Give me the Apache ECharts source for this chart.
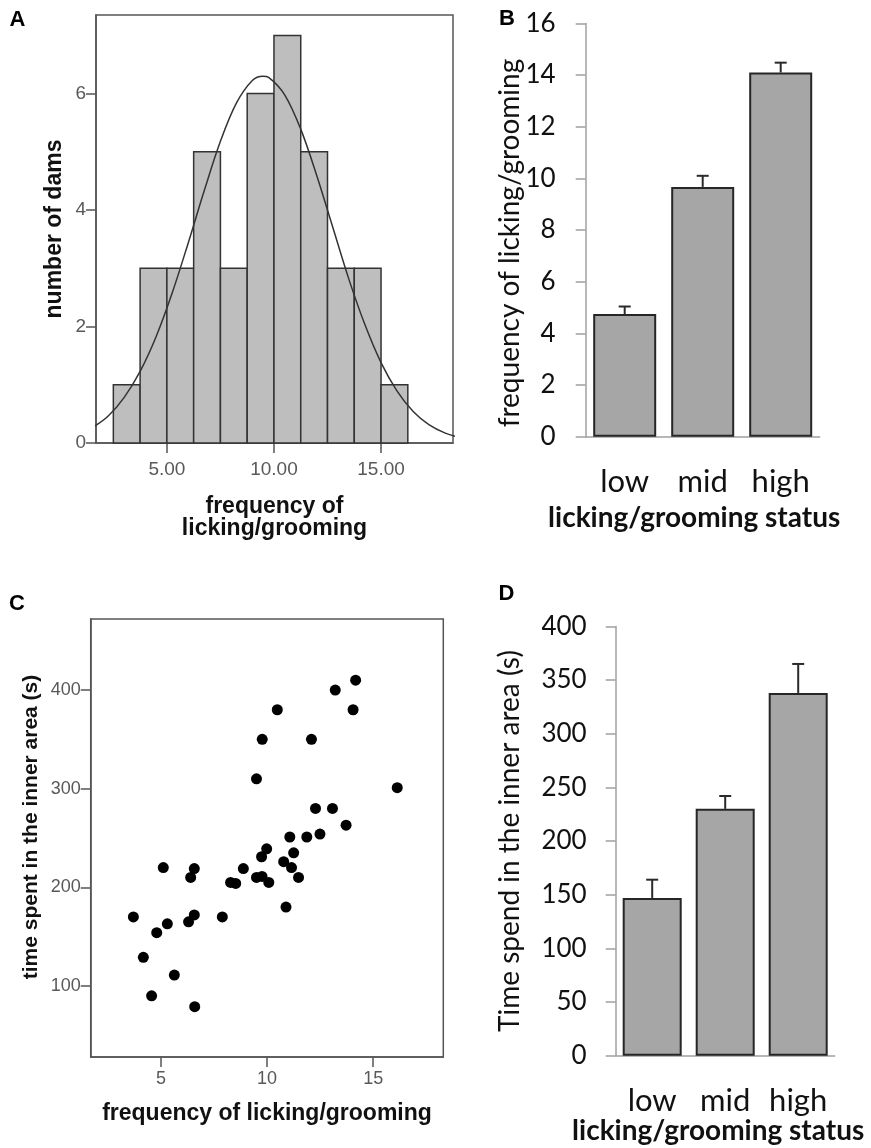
<!DOCTYPE html>
<html>
<head>
<meta charset="utf-8">
<script src="https://cdn.jsdelivr.net/npm/echarts@6/dist/echarts.min.js"></script>
<style>
  html, body { margin: 0; padding: 0; background: #fff; }
  #chart { width: 871px; height: 1148px; }
</style>
</head>
<body>
<div id="chart"></div>
<script>
// panel A: histogram of licking/grooming frequency + fitted curve
const histEdges = [2.5, 3.75, 5.0, 6.25, 7.5, 8.75, 10.0, 11.25, 12.5, 13.75, 15.0, 16.25];
const histCounts = [1, 3, 3, 5, 3, 6, 7, 5, 3, 3, 1];
const curveX = [1.5, 2.25, 3.0, 3.75, 4.5, 5.25, 6.0, 6.75, 7.5, 8.25, 9.0, 9.48, 9.75,
                10.5, 11.25, 12.0, 12.75, 13.5, 14.25, 15.0, 15.75, 16.5, 17.25, 18.0, 18.75];
const curveY = [0.26, 0.46, 0.78, 1.23, 1.83, 2.58, 3.44, 4.34, 5.18, 5.84, 6.23, 6.30, 6.28,
                5.98, 5.39, 4.59, 3.70, 2.81, 2.03, 1.38, 0.89, 0.54, 0.31, 0.17, 0.09];
const histXTicks = [5, 10, 15];
const histYTicks = [0, 2, 4, 6];

// panels B and D: group means with SEM
const groups = ['low', 'mid', 'high'];
const lgMeans = [4.75, 9.67, 14.1];
const lgSem = [0.29, 0.43, 0.38];
const timeMeans = [147, 230, 338];
const timeSem = [17, 12, 27];

// panel C: scatter, frequency vs time in inner area
const scatterLG = [14.17, 13.21, 14.05, 10.48, 9.77, 12.09, 9.50, 16.13, 12.28, 13.08,
                   13.72, 11.07, 11.87, 12.49, 9.98, 9.74, 11.25, 10.78, 11.15, 11.48,
                   5.11, 6.57, 6.40, 8.88, 9.50, 9.76, 10.08, 8.28, 8.52, 10.89,
                   3.70, 7.89, 6.57, 6.30, 5.30, 4.80, 4.17, 5.63, 4.56, 6.59];
const scatterTime = [410, 400, 380, 380, 350, 350, 310, 301, 280, 280,
                     263, 251, 251, 254, 239, 231, 235, 226, 220, 210,
                     220, 219, 210, 219, 210, 211, 205, 205, 204, 180,
                     170, 170, 172, 165, 163, 154, 129, 111, 90, 79];
const scatterXTicks = [5, 10, 15];
const scatterYTicks = [100, 200, 300, 400];

let chart = echarts.init(document.getElementById('chart'), null, { renderer: 'canvas' });

const spssFont = 'Liberation Sans';
const officeFont = 'Lato';

let histData = histCounts.map((c, i) => [histEdges[i], histEdges[i + 1], c]);
let curveData = curveX.map((x, i) => [x, curveY[i]]);
let scatterData = scatterLG.map((x, i) => [x, scatterTime[i]]);
let lgErr = lgMeans.map((m, i) => [i, m, lgSem[i]]);
let timeErr = timeMeans.map((m, i) => [i, m, timeSem[i]]);

function errItem(params, api) {
  let base = api.coord([api.value(0), api.value(1)]);
  let top = api.coord([api.value(0), api.value(1) + api.value(2)]);
  let st = { stroke: '#2a2a2a', lineWidth: 2 };
  return {
    type: 'group',
    children: [
      { type: 'line', shape: { x1: base[0], y1: base[1], x2: top[0], y2: top[1] }, style: st },
      { type: 'line', shape: { x1: top[0] - 6, y1: top[1], x2: top[0] + 6, y2: top[1] }, style: st }
    ]
  };
}

function spssValueAxis(idx, min, max, ticks, fmt, labelSize, margin) {
  return {
    type: 'value',
    gridIndex: idx,
    min: min,
    max: max,
    nameMoveOverlap: false,
    splitLine: { show: false },
    axisLine: { show: true, lineStyle: { color: '#555', width: 1.5 } },
    axisTick: { show: true, customValues: ticks, length: 10, lineStyle: { color: '#555', width: 1.5 } },
    axisLabel: {
      customValues: ticks, formatter: fmt, margin: margin,
      color: '#595959', fontSize: labelSize, fontFamily: spssFont
    }
  };
}

function officeValueAxis(idx, max, interval, margin) {
  return {
    type: 'value',
    gridIndex: idx,
    min: 0,
    max: max,
    interval: interval,
    nameMoveOverlap: false,
    splitLine: { show: false },
    axisLine: { show: true, lineStyle: { color: '#a0a0a0', width: 1.5 } },
    axisTick: { show: true, length: 10, lineStyle: { color: '#a0a0a0', width: 1.5 } },
    axisLabel: { margin: margin, color: '#111', fontSize: 26, fontFamily: officeFont }
  };
}

function officeCatAxis(idx, gap, pad) {
  return {
    type: 'category',
    gridIndex: idx,
    data: groups,
    nameMoveOverlap: false,
    axisLine: { show: true, lineStyle: { color: '#a0a0a0', width: 1.5 } },
    axisTick: { show: false },
    axisLabel: { interval: 0, hideOverlap: false, margin: 30, color: '#111', fontSize: 31, fontFamily: officeFont },
    name: 'licking/grooming status',
    nameLocation: 'middle',
    nameGap: gap,
    nameTextStyle: { fontSize: 28, fontWeight: 'bold', fontFamily: officeFont, color: '#111', padding: pad }
  };
}

let xA = spssValueAxis(0, 1.69, 18.36, histXTicks, v => v.toFixed(2), 19, 17);
xA.name = 'frequency of\nlicking/grooming';
xA.nameLocation = 'middle';
xA.nameGap = 53;
xA.nameTextStyle = { fontSize: 23, fontWeight: 'bold', fontFamily: spssFont, color: '#111', lineHeight: 22 };

let yA = spssValueAxis(0, 0, 7.35, histYTicks, v => String(v), 19, 10);
yA.name = 'number of dams';
yA.nameLocation = 'middle';
yA.nameGap = 30;
yA.nameTextStyle = { fontSize: 23, fontWeight: 'bold', fontFamily: spssFont, color: '#111' };

let xC = spssValueAxis(2, 1.69, 18.3, scatterXTicks, v => String(v), 18, 13);
xC.name = 'frequency of licking/grooming';
xC.nameLocation = 'middle';
xC.nameGap = 45;
xC.nameTextStyle = { fontSize: 23, fontWeight: 'bold', fontFamily: spssFont, color: '#111' };

let yC = spssValueAxis(2, 28, 472, scatterYTicks, v => String(v), 18, 10);
yC.name = 'time spent in the inner area (s)';
yC.nameLocation = 'middle';
yC.nameGap = 49;
yC.nameTextStyle = { fontSize: 21, fontWeight: 'bold', fontFamily: spssFont, color: '#111', padding: [0, 0, 0, 22] };

let yB = officeValueAxis(1, 16, 2, 30);
yB.name = 'frequency of licking/grooming';
yB.nameLocation = 'middle';
yB.nameGap = 62;
yB.nameTextStyle = { fontSize: 28, fontFamily: officeFont, color: '#111', padding: [0, 26, 0, 0] };

let yD = officeValueAxis(3, 400, 50, 29);
yD.name = 'Time spend in the inner area (s)';
yD.nameLocation = 'middle';
yD.nameGap = 92;
yD.nameTextStyle = { fontSize: 28, fontFamily: officeFont, color: '#111' };

function letter(t, x, y) {
  return {
    type: 'text', x: x, y: y,
    style: { text: t, fontSize: 22, fontWeight: 'bold', fontFamily: spssFont, fill: '#000', align: 'center', verticalAlign: 'middle' }
  };
}

let option = {
  backgroundColor: '#fff',
  animation: false,
  grid: [
    { left: 96, top: 15, width: 357, height: 428, show: true, borderColor: '#555', borderWidth: 1.5, backgroundColor: 'transparent' },
    { left: 585.7, top: 23.4, width: 234, height: 413.3 },
    { left: 90.7, top: 619, width: 352.6, height: 438, show: true, borderColor: '#555', borderWidth: 1.5, backgroundColor: 'transparent' },
    { left: 615.7, top: 626.4, width: 219, height: 429.3 }
  ],
  xAxis: [xA, officeCatAxis(1, 67, [0, 17, 0, 0]), xC, officeCatAxis(3, 61, [0, 14, 0, 0])],
  yAxis: [yA, yB, yC, yD],
  graphic: [letter('A', 17.5, 20), letter('B', 507, 19), letter('C', 17, 604), letter('D', 506.5, 593.5)],
  series: [
    {
      type: 'custom',
      xAxisIndex: 0, yAxisIndex: 0,
      data: histData,
      encode: { x: [0, 1], y: 2 },
      renderItem: function (params, api) {
        let p0 = api.coord([api.value(0), api.value(2)]);
        let p1 = api.coord([api.value(1), 0]);
        return {
          type: 'rect',
          shape: { x: p0[0], y: p0[1], width: p1[0] - p0[0], height: p1[1] - p0[1] },
          style: { fill: '#bebebe', stroke: '#333', lineWidth: 1.5 }
        };
      }
    },
    {
      type: 'line',
      xAxisIndex: 0, yAxisIndex: 0,
      data: curveData,
      smooth: 0.35,
      showSymbol: false,
      clip: true,
      lineStyle: { color: '#333', width: 1.5 },
      z: 3
    },
    {
      type: 'bar',
      xAxisIndex: 1, yAxisIndex: 1,
      data: lgMeans,
      barWidth: 63,
      itemStyle: { color: '#a6a6a6', borderColor: '#262626', borderWidth: 2 }
    },
    {
      type: 'custom',
      xAxisIndex: 1, yAxisIndex: 1,
      data: lgErr,
      renderItem: errItem,
      z: 1
    },
    {
      type: 'scatter',
      xAxisIndex: 2, yAxisIndex: 2,
      data: scatterData,
      symbolSize: 11,
      itemStyle: { color: '#000', opacity: 1 }
    },
    {
      type: 'bar',
      xAxisIndex: 3, yAxisIndex: 3,
      data: timeMeans,
      barWidth: 59,
      itemStyle: { color: '#a6a6a6', borderColor: '#262626', borderWidth: 2 }
    },
    {
      type: 'custom',
      xAxisIndex: 3, yAxisIndex: 3,
      data: timeErr,
      renderItem: errItem,
      z: 1
    }
  ]
};

chart.setOption(option);
</script>
</body>
</html>
